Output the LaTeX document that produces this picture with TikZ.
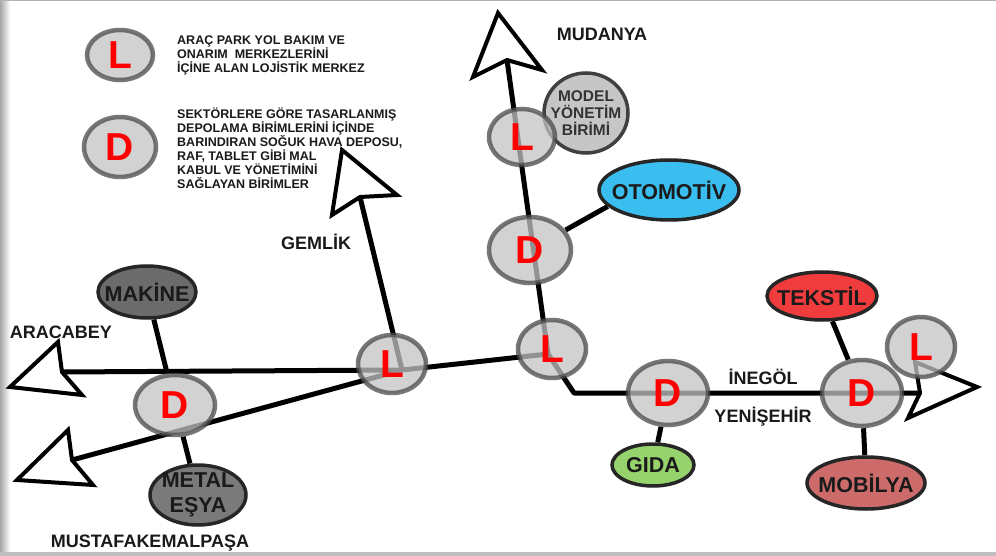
\documentclass[tikz,border=0pt]{standalone}
\usepackage{fontspec}
\setmainfont{Liberation Sans}
\usetikzlibrary{shapes.geometric,backgrounds}

\definecolor{hubfill}{HTML}{C4C4C4}
\definecolor{hubrim}{HTML}{4A4A4A}
\definecolor{inkgray}{HTML}{1A1A1A}
\definecolor{machgray}{HTML}{6B6B6B}
\definecolor{metalgray}{HTML}{7A7A7A}
\definecolor{modelgray}{HTML}{C6C6C6}
\definecolor{autoblue}{HTML}{3ABEF0}
\definecolor{textred}{HTML}{F03C3C}
\definecolor{foodgreen}{HTML}{97D36C}
\definecolor{furnrose}{HTML}{CD6B6B}

\newcommand\hubfont{\fontsize{39}{39}\selectfont\bfseries}
\newcommand\secfont{\fontsize{21.5}{25}\selectfont\bfseries}
\newcommand\modelfont{\fontsize{15.5}{17}\selectfont\bfseries}
\newcommand\placefont{\fontsize{18}{20}\selectfont\bfseries}
\newcommand\notefont{\fontsize{12.5}{13.9}\selectfont\bfseries}

\tikzset{
  route/.style={line width=5pt, line join=round},
  link/.style={line width=5pt},
  tipshape/.style={draw, line width=4pt, fill=white, line join=miter},
  dims/.style 2 args={minimum width={2*#1-4}, minimum height={2*#2-4}},
  hub/.style={ellipse, draw=hubrim, fill=hubfill, line width=4.5pt, opacity=.75,
    text opacity=1, text=red, font=\hubfont, inner sep=0pt},
  sector/.style={ellipse, draw=black!85, line width=3.5pt, inner sep=0pt},
  sectext/.style={font=\secfont, text=inkgray, align=center, inner sep=0pt},
  place/.style={font=\placefont, text=inkgray, inner sep=0pt},
  note/.style={font=\notefont, text=inkgray, align=left, inner sep=0pt, anchor=north west},
}

\begin{document}
\begin{tikzpicture}[x=1pt,y=-1pt]
\useasboundingbox (0,0) rectangle (996,556);

% legend
\node[hub, dims={35}{27}] (legl) at (120,55) {L};
\node[hub, dims={38}{32}] (legd) at (120,147) {D};
\node[note] (notel) at (177,35.5) {ARAÇ PARK YOL BAKIM VE\\ONARIM\ \ MERKEZLERİNİ\\İÇİNE ALAN LOJİSTİK MERKEZ};
\node[note] (noted) at (177,108) {SEKTÖRLERE GÖRE TASARLANMIŞ\\DEPOLAMA BİRİMLERİNİ İÇİNDE\\BARINDIRAN SOĞUK HAVA DEPOSU,\\RAF, TABLET GİBİ MAL\\KABUL VE YÖNETİMİNİ\\SAĞLAYAN BİRİMLER};

% sector units
\node[sector, fill=machgray, dims={51}{28}, label={[sectext]center:MAKİNE}] (makine) at (147,292) {};
\node[sector, fill=metalgray, dims={50}{32}, label={[sectext]center:{METAL\\EŞYA}}] (metal) at (198,495) {};
\node[sector, fill=modelgray, draw=black!75, dims={44}{42},
  label={[sectext, font=\modelfont, text=black!80]center:{MODEL\\YÖNETİM\\BİRİMİ}}] (model) at (586,113) {};
\node[sector, fill=autoblue, dims={72}{32}, label={[sectext]center:OTOMOTİV}] (otomotiv) at (669,190) {};
\node[sector, fill=textred, dims={57}{26}, label={[sectext]center:TEKSTİL}] (tekstil) at (822,296) {};
\node[sector, fill=foodgreen, dims={43}{23}, label={[sectext]center:GIDA}] (gida) at (653,465) {};
\node[sector, fill=furnrose, dims={61}{28}, label={[sectext]center:MOBİLYA}] (mobilya) at (866,483) {};

% hubs on the routes
\node[hub, dims={42}{32}] (d1) at (175,405) {D};
\node[hub, dims={36}{31}] (l1) at (392,364) {L};
\node[hub, dims={36}{31}] (l2) at (552,349) {L};
\node[hub, dims={43}{35}] (d2) at (530,250) {D};
\node[hub, dims={35}{30}] (l3) at (522,137) {L};
\node[hub, dims={42}{34}] (d3) at (668,393) {D};
\node[hub, dims={42}{35}] (d4) at (862,393) {D};
\node[hub, dims={36}{32}] (l4) at (921,347) {L};

% place names
\node[place] (aracabey) at (61,332) {ARACABEY};
\node[place] (mkpasa) at (150,543) {MUSTAFAKEMALPAŞA};
\node[place] (gemlik) at (316,242) {GEMLİK};
\node[place] (mudanya) at (602,34) {MUDANYA};
\node[place] (inegol) at (763,377) {İNEGÖL};
\node[place] (yenisehir) at (763,417) {YENİŞEHİR};

\begin{pgfonlayer}{background}
  % page frame
  \fill[white] (0,0) rectangle (996,556);
  \shade[left color=black!35, right color=white] (0,0) rectangle (10,556);
  \fill[black!30] (0,0) rectangle (996,1.5);
  \fill[black!25] (0,552) rectangle (996,556);

  \coordinate (j1) at (402,370);
  \coordinate (j2) at (548,354);
  \coordinate (bend) at (574,393);
  \coordinate (westtail) at (62,372);
  \coordinate (swtail) at (72,460);
  \coordinate (gemtail) at (360,197);
  \coordinate (mudtail) at (507,60);
  \coordinate (easttail) at (920,393);

  % roads
  \draw[route] (westtail) -- (j1);
  \draw[route] (swtail) -- (j1);
  \draw[route] (gemtail) -- (j1);
  \draw[route] (j1) -- (j2);
  \draw[route] (mudtail) -- (j2) -- (bend) -- (easttail);

  % open arrow heads
  \draw[tipshape] (10,387) -- (58,342) -- (westtail) -- (82,395) -- cycle;
  \draw[tipshape] (17,480) -- (68,430) -- (swtail) -- (93,485) -- cycle;
  \draw[tipshape] (342,150) -- (397,195) -- (gemtail) -- (332,215) -- cycle;
  \draw[tipshape] (498,13) -- (542,70) -- (mudtail) -- (473,77) -- cycle;
  \draw[tipshape] (977,387) -- (908,418) -- (easttail) -- (915,362) -- cycle;

  % sector links
  \draw[link] (makine) -- (d1);
  \draw[link] (d1) -- (metal);
  \draw[link] (d2) -- (otomotiv.195);
  \draw[link] (tekstil) -- (d4);
  \draw[link] (d4) -- (mobilya);
  \draw[link] (d3) -- (gida);
\end{pgfonlayer}
\end{tikzpicture}
\end{document}
